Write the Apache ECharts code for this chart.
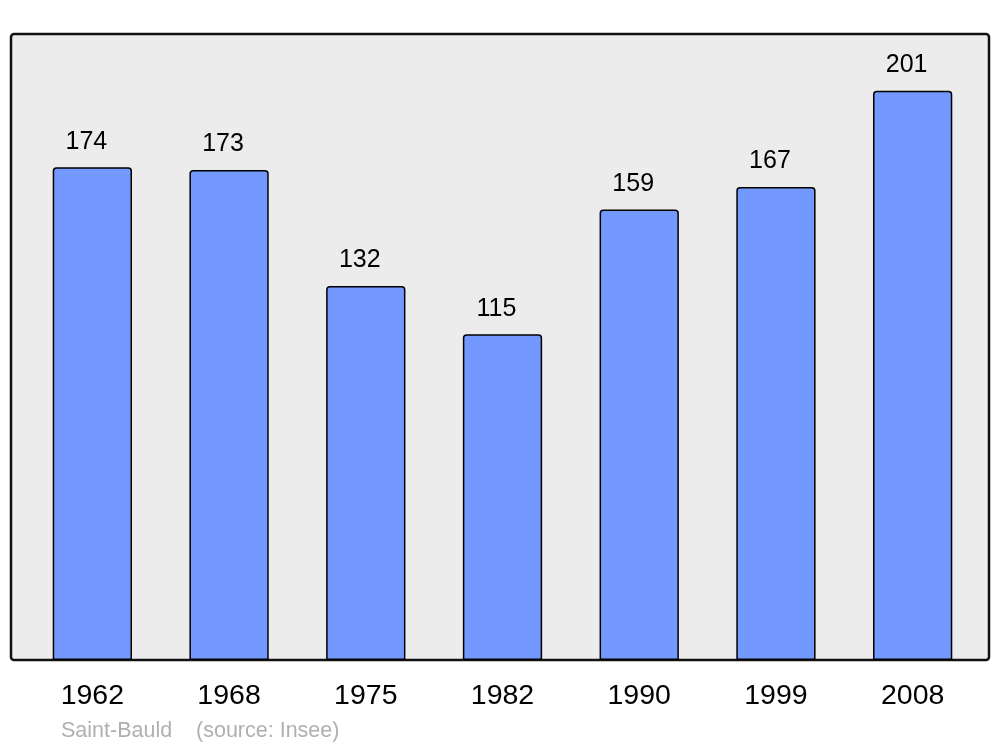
<!DOCTYPE html>
<html><head><meta charset="utf-8">
<script src="https://cdn.jsdelivr.net/npm/echarts@6/dist/echarts.min.js"></script>
<style>html,body{margin:0;padding:0;background:#fff}#c{width:1000px;height:747px}</style>
</head><body><div id="c"></div>
<script>
const years = ['1962','1968','1975','1982','1990','1999','2008'];
const population = [174,173,132,115,159,167,201];
const footer = 'Saint-Bauld    (source: Insee)';

const chart = echarts.init(document.getElementById('c'), null, {renderer:'canvas'});
chart.setOption({
  animation:false,
  backgroundColor:'#ffffff',
  grid:{left:24,right:19,top:34,bottom:87,show:false},
  graphic:[
    {type:'rect',z:-10,shape:{x:11,y:34,width:978,height:626,r:3},
     style:{fill:'#ececec',stroke:'#111111',lineWidth:2.5}},
    {type:'text',left:61,top:720,style:{text:footer,fill:'#b0b0b0',font:'21.5px "Liberation Sans", Arial, sans-serif'}}
  ],
  xAxis:{type:'category',data:years,
    axisLine:{show:false},axisTick:{show:false},
    axisLabel:{color:'#000',fontSize:28.5,fontFamily:'Liberation Sans',margin:22}},
  yAxis:{type:'value',min:0,max:221,show:false,splitLine:{show:false}},
  series:[{type:'bar',data:population,barCategoryGap:'42%',
    itemStyle:{color:'#7399ff',borderColor:'#000',borderWidth:1.5,borderRadius:[3,3,0,0]},
    label:{show:true,position:'top',distance:13,offset:[-6,0],color:'#000',fontSize:25,fontFamily:'Liberation Sans'}
  }]
});
</script></body></html>
